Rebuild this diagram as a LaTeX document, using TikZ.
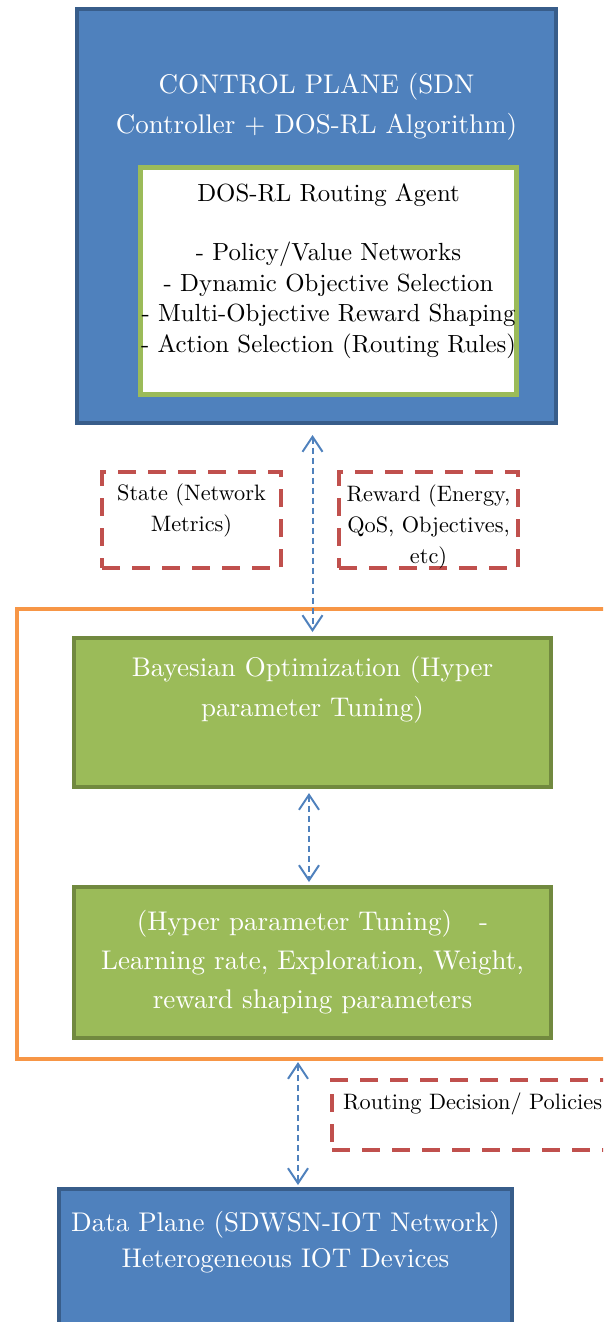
\documentclass[tikz,border=0pt]{standalone}
\usepackage{fontspec}
\setmainfont{lmroman10-regular}[Extension=.otf]
\usetikzlibrary{arrows.meta}

\definecolor{planefill}{HTML}{4F81BD}
\definecolor{planeedge}{HTML}{385D8A}
\definecolor{optfill}{HTML}{9BBB59}
\definecolor{optedge}{HTML}{71893F}
\definecolor{tuneedge}{HTML}{F79646}
\definecolor{msgedge}{HTML}{C0504D}

\begin{document}
\begin{tikzpicture}[x=1pt,y=-1pt,
  plane/.style={draw=planeedge,fill=planefill,line width=4pt,inner sep=0pt,outer sep=0pt},
  optbox/.style={draw=optedge,fill=optfill,line width=4pt,inner sep=0pt,outer sep=0pt},
  msgbox/.style={draw=msgedge,line width=4.5pt,dash pattern=on 18pt off 12pt,inner sep=0pt,outer sep=0pt},
  bigtxt/.style={font=\fontsize{27}{40}\selectfont,align=center,text=white,inner sep=0pt},
  smalltxt/.style={font=\fontsize{22.3}{31}\selectfont,align=center,inner sep=0pt},
  link/.style={draw=planefill,line width=2pt,dash pattern=on 6pt off 4pt,
    {Straight Barb[length=15pt,width=20pt]}-{Straight Barb[length=15pt,width=20pt]}}]
\useasboundingbox (0,0) rectangle (603,1322);
\clip (0,0) rectangle (603,1322);
\node[plane,minimum width=479pt,minimum height=414pt] (control) at (316.5,216) {};
\node[draw=optfill,fill=white,line width=5pt,inner sep=0pt,outer sep=0pt,minimum width=376pt,minimum height=227pt] (agent) at (328.5,281) {};
\node[bigtxt] (controltxt) at (316.5,107) {CONTROL PLANE (SDN\\Controller + DOS-RL Algorithm)};
\node[font=\fontsize{24.8}{30.5}\selectfont,align=center,inner sep=0pt] (agenttxt) at (328.5,271) {DOS-RL Routing Agent\\[28.5pt]- Policy/Value Networks\\- Dynamic Objective Selection\\- Multi-Objective Reward Shaping\\- Action Selection (Routing Rules)};
\node[msgbox,minimum width=179pt,minimum height=96pt] (state) at (191.5,520) {};
\node[msgbox,minimum width=179pt,minimum height=96pt] (reward) at (428.5,520) {};
\node[smalltxt] (statetxt) at (191.5,510.5) {State (Network\\Metrics)};
\node[smalltxt] (rewardtxt) at (428.5,526.5) {Reward (Energy,\\QoS, Objectives,\\etc)};
\node[draw=tuneedge,line width=4pt,inner sep=0pt,outer sep=0pt,minimum width=623pt,minimum height=450pt] (tuning) at (328.5,834) {};
\node[optbox,minimum width=477pt,minimum height=149pt] (bayes) at (312.5,712.5) {};
\node[optbox,minimum width=477pt,minimum height=151pt] (hyper) at (312.5,962.5) {};
\node[bigtxt] (bayestxt) at (312.5,690) {Bayesian Optimization (Hyper\\parameter Tuning)};
\node[bigtxt,font=\fontsize{27}{39}\selectfont] (hypertxt) at (312.5,962) {(Hyper parameter Tuning)\ \ \ -\\Learning rate, Exploration, Weight,\\reward shaping parameters};
\node[msgbox,minimum width=318pt,minimum height=70pt] (routing) at (491,1115) {};
\node[smalltxt,anchor=west] (routingtxt) at (343,1104) {Routing Decision/ Policies};
\node[plane,minimum width=453pt,minimum height=211pt] (data) at (285.5,1294.5) {};
\node[bigtxt,font=\fontsize{27}{36}\selectfont] (datatxt) at (285.5,1242) {Data Plane (SDWSN-IOT Network)\\Heterogeneous IOT Devices};
\draw[link,shorten <=12pt,shorten >=6pt] (bayes.north |- control.south) -- (bayes.north);
\draw[link,shorten <=6pt,shorten >=5pt] ([xshift=-3.5pt]bayes.south) -- ([xshift=-3.5pt]hyper.north);
\draw[link,shorten <=3pt,shorten >=4pt] ([xshift=12.5pt]data.north |- tuning.south) -- ([xshift=12.5pt]data.north);
\end{tikzpicture}
\end{document}
